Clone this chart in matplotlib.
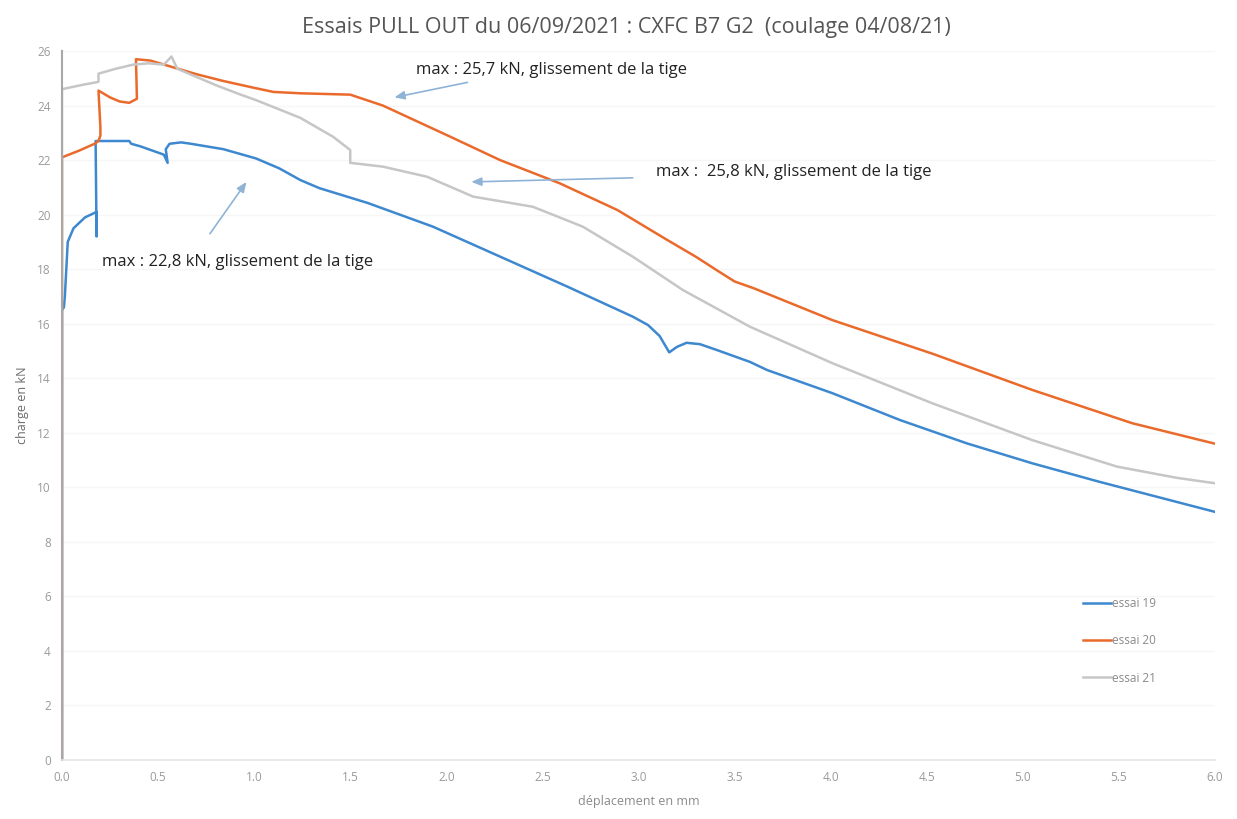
import matplotlib
matplotlib.use("Agg")
import matplotlib.pyplot as plt
from matplotlib.lines import Line2D

# Pull-out test curves: displacement (mm) vs load (kN)
x19 = [0, 0.0, 0.01, 0.015, 0.03, 0.06, 0.12, 0.18, 0.18, 0.175, 0.25, 0.35, 0.36, 0.41,
       0.47, 0.53, 0.55, 0.54, 0.56, 0.62, 0.67, 0.84, 1.01, 1.13, 1.24, 1.34, 1.59, 1.93,
       2.28, 2.63, 2.97, 3.05, 3.11, 3.16, 3.2, 3.25, 3.32, 3.41, 3.58, 3.67, 4.01, 4.36,
       4.71, 5.05, 5.4, 5.7, 6.0]
y19 = [0, 16.5, 16.6, 17.0, 19.0, 19.5, 19.9, 20.1, 19.2, 22.7, 22.7, 22.7, 22.6, 22.5,
       22.35, 22.2, 21.9, 22.4, 22.6, 22.65, 22.6, 22.4, 22.06, 21.7, 21.27, 20.97, 20.43,
       19.56, 18.46, 17.36, 16.26, 15.95, 15.55, 14.95, 15.15, 15.3, 15.25, 15.03, 14.6,
       14.3, 13.45, 12.47, 11.61, 10.88, 10.2, 9.65, 9.1]

x20 = [0, 0, 0.09, 0.17, 0.19, 0.2, 0.2, 0.19, 0.25, 0.3, 0.35, 0.39, 0.385, 0.46, 0.58,
       0.7, 0.84, 1.0, 1.1, 1.24, 1.5, 1.67, 2.02, 2.28, 2.59, 2.89, 3.15, 3.3, 3.41, 3.5,
       3.6, 4.01, 4.53, 5.05, 5.57, 6.0]
y20 = [0, 22.1, 22.35, 22.6, 22.7, 22.9, 23.2, 24.55, 24.3, 24.15, 24.1, 24.25, 25.7,
       25.65, 25.4, 25.15, 24.9, 24.65, 24.5, 24.45, 24.4, 24.0, 22.86, 22.0, 21.15, 20.17,
       19.07, 18.45, 17.95, 17.55, 17.3, 16.13, 14.9, 13.57, 12.35, 11.6]

x21 = [0, 0, 0.1, 0.19, 0.19, 0.28, 0.37, 0.45, 0.53, 0.57, 0.6, 0.7, 0.8, 0.93, 1.01,
       1.24, 1.41, 1.5, 1.5, 1.67, 1.9, 2.14, 2.45, 2.71, 2.97, 3.23, 3.58, 4.01, 4.53,
       5.05, 5.49, 5.8, 6.0]
y21 = [0, 24.6, 24.75, 24.87, 25.17, 25.35, 25.5, 25.55, 25.5, 25.8, 25.35, 25.05, 24.75,
       24.4, 24.2, 23.55, 22.86, 22.37, 21.9, 21.76, 21.39, 20.66, 20.29, 19.56, 18.46,
       17.24, 15.89, 14.55, 13.08, 11.73, 10.76, 10.35, 10.15]

labels = ["essai 19", "essai 20", "essai 21"]
colors = ["#3d88ce", "#ea6a2c", "#c6c6c6"]

xticks = [0.0, 0.5, 1.0, 1.5, 2.0, 2.5, 3.0, 3.5, 4.0, 4.5, 5.0, 5.5, 6.0]
yticks = list(range(0, 27, 2))

notes = [
    ("max : 25,7 kN, glissement de la tige", (1.84, 25.3), (2.11, 24.85), (1.73, 24.3)),
    ("max :  25,8 kN, glissement de la tige", (3.09, 21.55), (2.97, 21.35), (2.13, 21.2)),
    ("max : 22,8 kN, glissement de la tige", (0.21, 18.25), (0.77, 19.3), (0.96, 21.2)),
]

plt.rcParams["font.family"] = ["Open Sans", "DejaVu Sans"]

fig = plt.figure(figsize=(12.37, 8.19), dpi=100)
ax = fig.add_axes([0.0501, 0.072, 0.9321, 0.8657])

for xs, ys, lab, col in zip([x19, x20, x21], [y19, y20, y21], labels, colors):
    ax.plot(xs, ys, color=col, lw=1.8, label=lab, solid_joinstyle="round")

ax.set_xlim(0, 6.0)
ax.set_ylim(0, 26)
ax.set_xticks(xticks)
ax.set_xticklabels([f"{v:.1f}" for v in xticks])
ax.set_yticks(yticks)
ax.tick_params(axis="both", length=0, labelsize=8.5, labelcolor="#9a9a9a", pad=8)
ax.grid(axis="y", color="#f6f6f6", lw=1)
ax.set_axisbelow(True)

for side in ["top", "right"]:
    ax.spines[side].set_visible(False)
ax.spines["left"].set_color("#a8a8a8")
ax.spines["left"].set_linewidth(1.5)
ax.spines["bottom"].set_color("#e4e4e4")
ax.spines["bottom"].set_linewidth(1.2)

ax.set_xlabel("déplacement en mm", fontsize=9, color="#8a8a8a", labelpad=8)
ax.set_ylabel("charge en kN", fontsize=9, color="#6a6a6a", labelpad=6)
fig.suptitle("Essais PULL OUT du 06/09/2021 : CXFC B7 G2  (coulage 04/08/21)",
             x=0.506, y=0.979, fontsize=15.5, color="#555555")

for text, txy, tail, head in notes:
    ax.text(txy[0], txy[1], text, fontsize=12, color="#222222", va="center", ha="left")
    ax.annotate("", xy=head, xytext=tail,
                arrowprops=dict(arrowstyle="-|>,head_length=0.6,head_width=0.25",
                                color="#8fb3d6", lw=1.2, shrinkA=0, shrinkB=0))

handles = [Line2D([0], [0], color=c, lw=1.8) for c in colors]
ax.legend(handles, labels, loc="center left", bbox_to_anchor=(0.876, 0.168),
          frameon=False, fontsize=8.5, labelcolor="#8a8a8a", handlelength=2.4,
          handletextpad=0.1, labelspacing=2.05)

fig.savefig("out.png", dpi=100, facecolor="white")
